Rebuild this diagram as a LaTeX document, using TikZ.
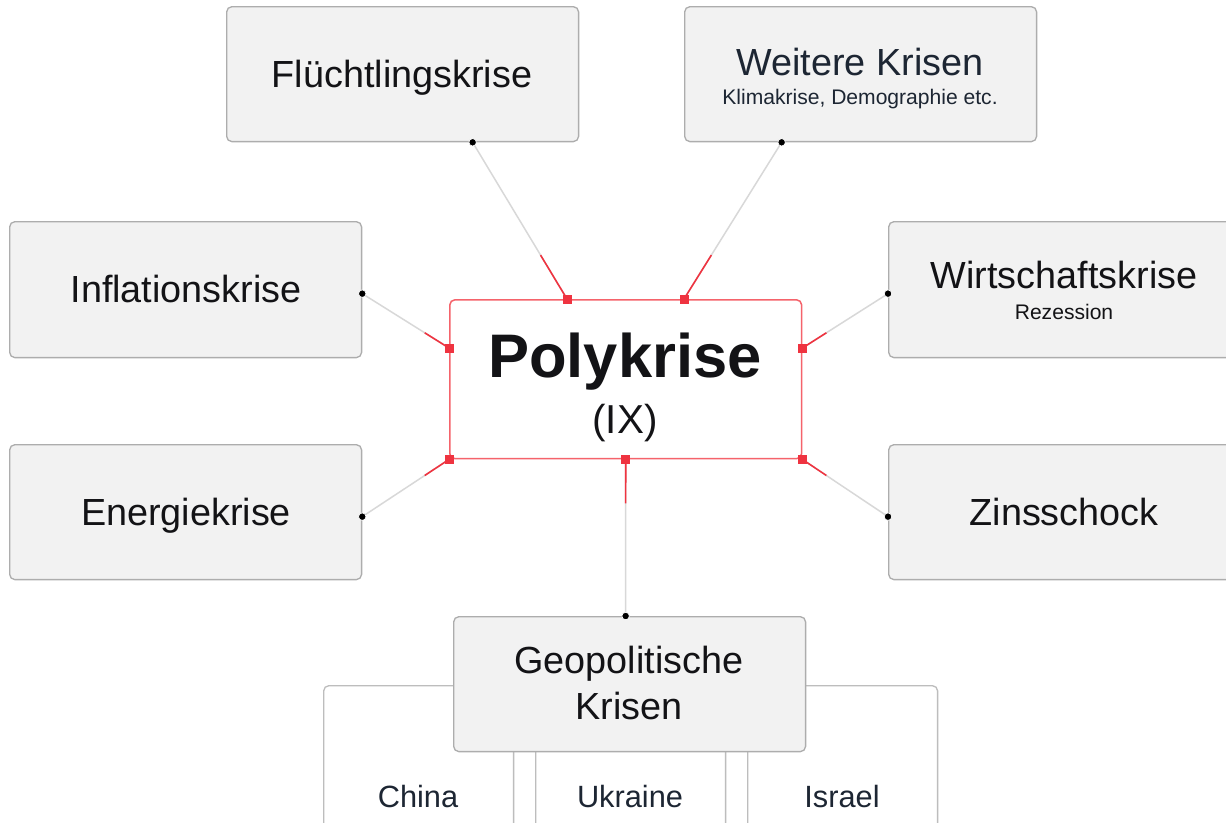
\documentclass[tikz,border=0pt]{standalone}
\usepackage{fontspec}
\setmainfont{Liberation Sans}
\usetikzlibrary{calc}
\definecolor{boxgrau}{HTML}{F2F2F2}
\definecolor{randgrau}{HTML}{ADADAD}
\definecolor{polyrot}{HTML}{EF3340}
\definecolor{randrot}{HTML}{F5636B}
\definecolor{liniengrau}{HTML}{D8D8D8}
\definecolor{tinte}{HTML}{131316}
\definecolor{schiefer}{HTML}{1D2633}
\pgfdeclarelayer{grund}
\pgfdeclarelayer{verbinder}
\pgfsetlayers{grund,verbinder,main}
\def\verbinde(#1)(#2){\draw[line width=0.85pt, color=liniengrau] (#1.center) -- (#2.center);
  \draw[line width=0.9pt, color=polyrot] (#2.center) -- ($(#2.center)!0.28!(#1.center)$);}
\tikzset{
  krise/.style={draw=randgrau, fill=boxgrau, line width=0.75pt, rounded corners=3pt,
    anchor=north west, inner sep=0pt, minimum width=7.04cm, minimum height=2.7cm},
  land/.style={krise, fill=white, draw=randgrau!80, minimum width=3.8cm, minimum height=4.4cm},
  titel/.style={anchor=base, inner sep=0pt, text=tinte, font=\fontsize{21.5}{25}\selectfont},
  untertitel/.style={anchor=base, inner sep=0pt, text=schiefer, font=\fontsize{12}{14}\selectfont},
  anker/.style={circle, fill=black, draw=white, line width=0.4pt, inner sep=0pt, minimum size=0.15cm},
  stecker/.style={rectangle, fill=polyrot, inner sep=0pt, minimum size=0.18cm}
}
\begin{document}
\begin{tikzpicture}[x=0.02cm, y=-0.02cm]
			%%%%% START %%%%%
			\clip (0, 0) rectangle (1226, 822);
			\begin{pgfonlayer}{grund}
				\fill[white] (0, 0) rectangle (1226, 822);
			\end{pgfonlayer}
			
			% die Laender unten
			\node[land] (china) at (323, 685) {};
			\node[land] (ukraine) at (535, 685) {};
			\node[land] (israel) at (747, 685) {};
			\node[titel, text=schiefer, font=\fontsize{17.5}{20}\selectfont] (chinaT) at (418, 807) {China};
			\node[titel, text=schiefer, font=\fontsize{17.5}{20}\selectfont] (ukraineT) at (630, 807) {Ukraine};
			\node[titel, text=schiefer, font=\fontsize{17.5}{20}\selectfont] (israelT) at (842, 807) {Israel};
			
			% die Krisen
			\node[krise] (fluecht) at (226, 6) {};
			\node[krise] (weitere) at (684, 6) {};
			\node[krise, minimum height=2.72cm] (inflation) at (9, 221) {};
			\node[krise, minimum height=2.72cm] (wirtschaft) at (888, 221) {};
			\node[krise] (energie) at (9, 444) {};
			\node[krise] (zins) at (888, 444) {};
			\node[krise] (geo) at (453, 616) {};
			
			\node[titel] (fluechtT) at (402, 87) {Flüchtlingskrise};
			\node[titel, text=schiefer] (weitereT) at (860, 75) {Weitere Krisen};
			\node[untertitel] (weitereU) at (860, 104) {Klimakrise, Demographie etc.};
			\node[titel] (inflationT) at (186, 302) {Inflationskrise};
			\node[titel] (wirtschaftT) at (1064, 288) {Wirtschaftskrise};
			\node[untertitel, text=tinte] (wirtschaftU) at (1064, 319) {Rezession};
			\node[titel] (energieT) at (186, 525) {Energiekrise};
			\node[titel] (zinsT) at (1064, 525) {Zinsschock};
			\node[titel] (geoT) at (629, 673) {Geopolitische};
			\node[titel] (geoU) at (629, 719) {Krisen};
			
			% Polykrise in der Mitte
			\node[krise, fill=white, draw=randrot, line width=0.85pt, minimum height=3.18cm] (poly) at (449, 299) {};
			\node[titel, font=\bfseries\fontsize{35}{40}\selectfont] (polyT) at (625, 377) {Polykrise};
			\node[titel, font=\fontsize{23}{27}\selectfont] (polyU) at (625, 433) {(IX)};
			
			% Ankerpunkte
			\node[anker] (a1) at ($(fluecht.south)+(70, 0)$) {};
			\node[anker] (a2) at ($(weitere.south)+(-79, 0)$) {};
			\node[anker] (a3) at ($(inflation.east)+(0, 4)$) {};
			\node[anker] (a4) at ($(wirtschaft.west)+(0, 4)$) {};
			\node[anker] (a5) at ($(energie.east)+(0, 4.5)$) {};
			\node[anker] (a6) at ($(zins.west)+(0, 4.5)$) {};
			\node[anker] (a7) at ($(geo.north)+(-4, 0)$) {};
			
			\node[stecker] (s1) at ($(poly.north west)+(118, 0)$) {};
			\node[stecker] (s2) at ($(poly.north west)+(235, 0)$) {};
			\node[stecker] (s3) at ($(poly.north west)+(0, 49)$) {};
			\node[stecker] (s4) at ($(poly.north east)+(0, 49)$) {};
			\node[stecker] (s5) at (poly.south west) {};
			\node[stecker] (s6) at (poly.south east) {};
			\node[stecker] (s7) at (poly.south) {};
			
			\begin{pgfonlayer}{verbinder}
				\verbinde(a1)(s1)
				\verbinde(a2)(s2)
				\verbinde(a3)(s3)
				\verbinde(a4)(s4)
				\verbinde(a5)(s5)
				\verbinde(a6)(s6)
				\verbinde(a7)(s7)
			\end{pgfonlayer}
			%%%%% END %%%%%
\end{tikzpicture}
\end{document}
